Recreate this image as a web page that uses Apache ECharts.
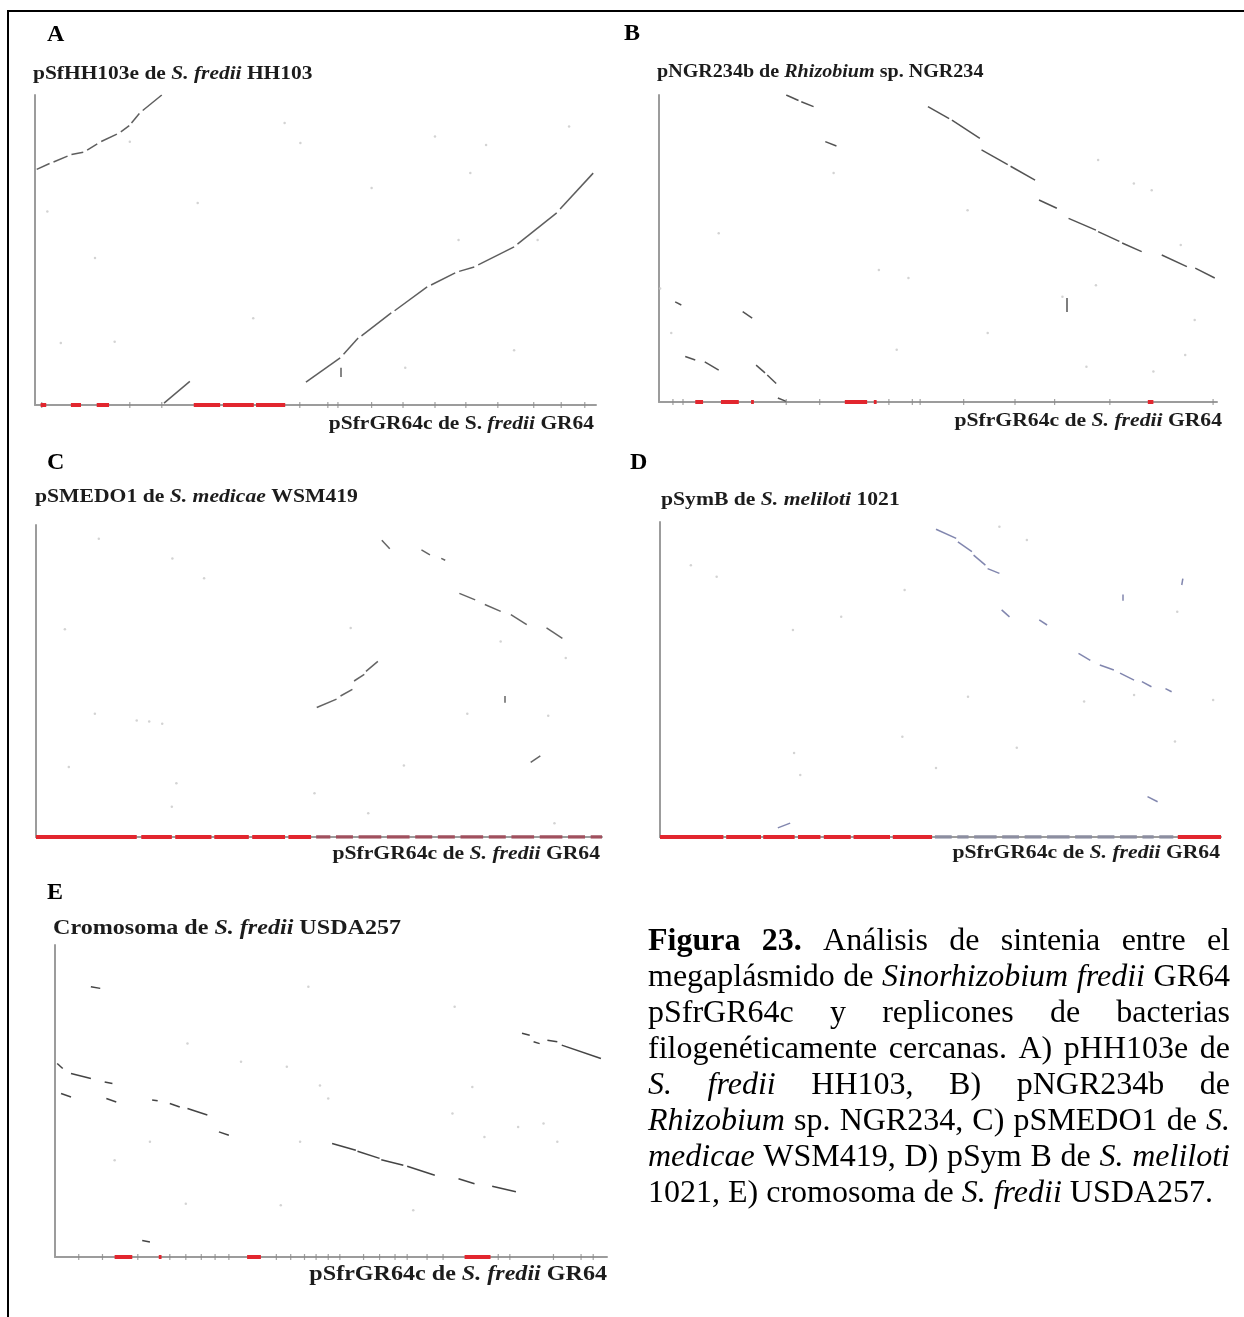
<!DOCTYPE html>
<html>
<head>
<meta charset="utf-8">
<script src="https://cdn.jsdelivr.net/npm/echarts@6/dist/echarts.min.js"></script>
<style>
html,body{margin:0;padding:0;background:#fff;}
#chart{width:1244px;height:1317px;}
</style>
</head>
<body>
<div id="chart"></div>
<script>
// ---------------- DATA (normalised genome positions, 0-100 % of each replicon) ----------------
// x = position on pSfrGR64c (S. fredii GR64), y = position on the compared replicon
// each hit: [x1, y1, x2, y2]
const hitsA = [
  [0.3,76,2.6,77.9],[3.3,78.4,5.8,80.3],[6.5,80.8,8.6,81.5],[9.3,82.2,11.1,84.2],
  [11.8,85,14.6,87.4],[15.3,88.1,16.8,90.1],[17.2,91,18.6,94],[19.2,95,22.6,100],
  [48.3,7.4,54.4,15.2],[55,16.4,57.6,21.6],[58.2,22.3,63.5,29.7],[64.1,30.4,69.9,38.1],
  [70.6,38.7,74.9,42.6],[75.6,43.1,78.3,44.5],[79,45.2,85.4,51],[86,51.9,93,62],[93.6,63.2,99.5,74.8],
  [23,0.6,27.6,7.6],[54.5,9,54.5,12]
];
const hitsB = [
  [22.8,100,25,98.2],[25.5,97.8,27.7,96.2],[29.8,84.8,31.8,83.4],
  [48.2,96.2,52,92.3],[52.5,91.8,57.5,85.9],[57.8,82.1,62.5,77.3],[63,76.8,67.4,72.3],
  [68.1,65.8,71.3,63.1],[73.4,59.8,78.3,56],[78.7,55.5,82.5,52.3],[83,51.8,86.5,49],
  [90.1,47.9,94.6,44.1],[96.1,43.6,99.6,40.4],
  [2.9,32.6,4,31.6],[15,29.4,16.7,27.3],[4.7,14.8,6.5,13.7],[8.2,13.1,10.7,10.4],
  [17.4,12,19,9.5],[19.4,8.8,21,6],[21.3,1.3,22.8,0.2],[73,33.9,73,29.3]
];
const hitsC = [
  [61.1,95.1,62.5,92.4],[68.1,92,69.6,90.4],[71.6,89.3,72.3,88.7],
  [74.8,78.1,77.6,76],[79.3,74.5,82.1,72.3],[83.9,71.3,86.7,68.1],[90.2,67,93,63.7],
  [49.6,41.5,53.1,44.2],[53.8,45.2,55.9,47.3],[56.2,50,58,52.1],[58.3,53.1,60.4,56.3],
  [87.4,23.9,89.1,26],[82.8,45.2,82.8,43]
];
const hitsD = [
  [49.2,97.7,52.8,94.8],[53.1,93.7,55.6,90.6],[55.9,89.5,58,86.3],[58.4,85.2,60.5,83.7],
  [60.9,72.1,62.3,69.9],[67.6,68.9,69,67.3],
  [74.6,58.3,76.7,56.1],[78.4,54.6,80.9,53],[82,52,84.5,49.8],[85.9,49.3,87.6,47.7],[90.1,47.1,91.2,46.1],
  [86.9,12.8,88.7,11.2],[82.4,77,82.4,75],[93.2,82,93,80],[21,2.9,23.2,4.4]
];
const hitsE = [
  [6.5,86.6,8.2,86.1],
  [0.4,62,1.4,60.4],[2.9,58.8,6.5,57.2],[1.1,52.4,2.9,51.3],[9,56.1,10.4,55.6],[9.3,50.8,11.1,49.7],
  [17.6,50.3,18.6,50.1],[20.8,49.2,22.6,48.1],[24,47.6,27.6,45.5],[29.7,40.1,31.5,39],
  [50.2,36.4,54.5,34.2],[54.8,33.9,58.8,31.6],[59.1,31.2,63.1,29.4],[63.8,29.1,68.8,26.2],
  [73.1,25.1,76,23.5],[79.2,22.7,83.5,20.9],
  [84.6,71.7,86,71.1],[86.7,69,87.8,68.4],[89.2,69.5,91,69],[91.8,67.9,98.9,63.6],
  [15.8,5.3,17.2,4.8]
];
// isolated weak hits [x, y]
const dotsA = [[44.5,91],[47.3,84.5],[71.3,86.6],[80.4,83.9],[77.6,74.8],[95.2,89.8],[38.9,28],[14.2,20.4],
  [4.6,20],[2.2,62.4],[10.7,47.4],[29,65.2],[85.4,17.7],[89.6,53.2],[75.5,53.2],[16.9,84.9],[60,70],[66,12]];
const dotsB = [[0.2,37],[44.7,40.4],[78.3,38],[96,26.7],[88.6,9.9],[31.3,74.6],[10.7,55],[39.4,43],[58.9,22.5],
  [42.6,17],[76.6,11.5],[85.1,71.2],[93.5,51.1],[88.3,69],[78.7,78.8],[55.3,62.5],[94.3,15.3],[2.2,22.5],[72.3,34.3]];
const dotsC = [[10.4,39.5],[22.3,36.3],[20,37],[24.8,17.2],[24,9.7],[49.2,14],[65,22.9],[11.1,95.6],[5.1,66.6],
  [5.8,22.4],[93.6,57.4],[29.7,82.9],[82.1,62.7],[55.6,67],[24.1,89.3],[91.6,4.4],[58.7,7.6],[17.8,37.3],[76.2,39.5],[90.5,38.9]];
const dotsD = [[23.9,26.7],[25,19.7],[43.2,31.8],[49.2,21.9],[63.6,28.3],[91.8,30.3],[10.1,82.6],[5.5,86.3],[60.5,98.5],
  [65.4,94.3],[75.6,43],[84.5,45.1],[98.6,43.5],[43.6,78.4],[32.3,69.9],[23.7,65.7],[54.9,44.5],[92.2,71.5]];
const dotsE = [[24,68.4],[33.7,62.6],[42,61],[48,55],[49.5,50.8],[10.8,31],[17.2,36.9],[44.4,36.9],[77.8,38.5],[83.9,41.7],
  [88.5,42.8],[75.6,54.5],[72,46],[23.7,17.1],[40.9,16.6],[64.9,15],[91,36.9],[45.9,86.6],[72.4,80.2]];
// annotated regions of pSfrGR64c along the x axis: [start, end]
const redA = [[1,2],[6.4,8.2],[11,13.2],[28.3,33],[33.5,39],[39.4,44.6]];
const redB = [[6.5,7.9],[11.1,14.3],[16.5,17],[33.3,37.3],[38.5,39],[87.6,88.6]];
const redC = [[0,17.8],[18.6,24],[24.6,31],[31.5,37.6],[38.2,44],[44.6,48.6]];
const redD = [[0,11.3],[11.8,18],[18.4,24],[24.6,28.6],[29.2,34],[34.5,41],[41.5,48.5],[92.3,100]];
const redE = [[10.8,14],[18.8,19.3],[34.8,37.3],[74.2,78.9]];
const otherA = [];
const otherB = [];
const otherC = [[49.5,52],[53,56],[57,61],[62,66],[67,70],[71,74],[75,79],[80,83],[84,88],[89,93],[94,97],[98,100]];
const otherD = [[49,52],[53,55],[56,60],[61,64],[65,68],[69,73],[74,77],[78,81],[82,85],[86,88],[89,91.5]];
const otherE = [];
// small marks along the x axis
const ticksA = [1.2,16.9,22.6,47.2,52.2,54,60,65.6,71.3,76.8,82.5,88.9,93.8,98];
const ticksB = [2.5,4.3,22.8,28.8,41.2,45.4,46.8,54.6,63.8,70.9,80.8,99.3];
const ticksC = [];
const ticksD = [];
const ticksE = [4.3,8.6,15,20.8,23.7,26.5,29,31.5,40.1,42.7,45.2,47.3,49.5,51.6,55.9,58.8,61.6,63.8,67.4,70.3,80.3,82.4,90.3,95.3,97.5];

const panelLetters = ['A','B','C','D','E'];
const yTitles = [
  '{b|pSfHH103e de }{bi|S. fredii}{b| HH103}',
  '{b|pNGR234b de }{bi|Rhizobium}{b| sp. NGR234}',
  '{b|pSMEDO1 de }{bi|S. medicae}{b| WSM419}',
  '{b|pSymB de }{bi|S. meliloti}{b| 1021}',
  '{b|Cromosoma de }{bi|S. fredii}{b| USDA257}'
];
const xTitles = [
  '{b|pSfrGR64c de S. }{bi|fredii}{b| GR64}',
  '{b|pSfrGR64c de }{bi|S. fredii}{b| GR64}',
  '{b|pSfrGR64c de }{bi|S. fredii}{b| GR64}',
  '{b|pSfrGR64c de }{bi|S. fredii}{b| GR64}',
  '{b|pSfrGR64c de }{bi|S. fredii}{b| GR64}'
];
const captionLines = [
  [['Figura','b'],['23.','b'],['Análisis','n'],['de','n'],['sintenia','n'],['entre','n'],['el','n']],
  [['megaplásmido','n'],['de','n'],['Sinorhizobium','i'],['fredii','i'],['GR64','n']],
  [['pSfrGR64c','n'],['y','n'],['replicones','n'],['de','n'],['bacterias','n']],
  [['filogenéticamente','n'],['cercanas.','n'],['A)','n'],['pHH103e','n'],['de','n']],
  [['S.','i'],['fredii','i'],['HH103,','n'],['B)','n'],['pNGR234b','n'],['de','n']],
  [['Rhizobium','i'],['sp.','n'],['NGR234,','n'],['C)','n'],['pSMEDO1','n'],['de','n'],['S.','i']],
  [['medicae','i'],['WSM419,','n'],['D)','n'],['pSym','n'],['B','n'],['de','n'],['S.','i'],['meliloti','i']],
  [['1021,','n'],['E)','n'],['cromosoma','n'],['de','n'],['S.','i'],['fredii','i'],['USDA257.','n']]
];

// ---------------- LAYOUT ----------------
const SERIF = '"Liberation Serif", "Times New Roman", serif';
const layout = [
  {grid:{left:35, top:95, width:561, height:310}, letter:[47,35], title:[33,74], xlab:[594,424], hit:'#555555', fs:19.5, tsx:1.1, lsx:1.1},
  {grid:{left:659, top:95, width:558, height:307}, letter:[624,34], title:[657,72], xlab:[1222,421], hit:'#4a4a4a', fs:19.5, tsx:1.03, lsx:1.11},
  {grid:{left:36, top:525, width:566, height:312}, letter:[47,463], title:[35,497], xlab:[600,854], hit:'#5c5c5c', fs:19.5, tsx:1.11, lsx:1.11},
  {grid:{left:660, top:522, width:561, height:315}, letter:[630,463], title:[661,500], xlab:[1220,853], hit:'#7a80aa', fs:19.5, tsx:1.11, lsx:1.11},
  {grid:{left:55, top:945, width:552, height:312}, letter:[47,893], title:[53,928], xlab:[607,1274], hit:'#3a3a3a', fs:21.5, tsx:1.12, lsx:1.12}
];
const hits = [hitsA,hitsB,hitsC,hitsD,hitsE];
const dots = [dotsA,dotsB,dotsC,dotsD,dotsE];
const reds = [redA,redB,redC,redD,redE];
const others = [otherA,otherB,otherC,otherD,otherE];
const otherColors = ['#999','#999','#a0505e','#8c8ea0','#999'];
const ticks = [ticksA,ticksB,ticksC,ticksD,ticksE];

const grids=[], xAxes=[], yAxes=[], series=[], graphics=[];
function rich(fs){
  return {
    b:{fontFamily:SERIF, fontWeight:'bold', fontSize:fs, fill:'#1c1c1c'},
    bi:{fontFamily:SERIF, fontWeight:'bold', fontStyle:'italic', fontSize:fs, fill:'#1c1c1c'}
  };
}
layout.forEach((L,i)=>{
  grids.push(Object.assign({containLabel:false}, L.grid));
  const axisLine = {show:true, onZero:false, lineStyle:{color:'#9c9c9c', width:2}};
  xAxes.push({gridIndex:i, type:'value', min:0, max:100, axisLine, axisTick:{show:false}, axisLabel:{show:false}, splitLine:{show:false}});
  yAxes.push({gridIndex:i, type:'value', min:0, max:100, axisLine, axisTick:{show:false}, axisLabel:{show:false}, splitLine:{show:false}});
  series.push({type:'scatter', xAxisIndex:i, yAxisIndex:i, data:dots[i], symbolSize:2.5, silent:true,
    itemStyle:{color:'#c8c8c8'}, z:2});
  series.push({type:'lines', coordinateSystem:'cartesian2d', xAxisIndex:i, yAxisIndex:i, silent:true, z:4,
    data:hits[i].map(s=>({coords:[[s[0],s[1]],[s[2],s[3]]]})), lineStyle:{color:L.hit, width:1.5, opacity:0.95}});
  series.push({type:'scatter', xAxisIndex:i, yAxisIndex:i, symbol:'rect', symbolSize:[1.2,6], silent:true, z:5,
    data:ticks[i].map(x=>[x,0]), itemStyle:{color:'#8a8a8a'}});
  series.push({type:'lines', coordinateSystem:'cartesian2d', xAxisIndex:i, yAxisIndex:i, silent:true, z:6,
    data:others[i].map(r=>({coords:[[r[0],0],[r[1],0]]})), lineStyle:{color:otherColors[i], width:3.5, opacity:1}});
  series.push({type:'lines', coordinateSystem:'cartesian2d', xAxisIndex:i, yAxisIndex:i, silent:true, z:7,
    data:reds[i].map(r=>({coords:[[r[0],0],[r[1],0]]})), lineStyle:{color:'#e2262e', width:4, opacity:1}});
  graphics.push({type:'text', x:L.letter[0], y:L.letter[1], silent:true,
    style:{text:panelLetters[i], font:'bold 24px '+SERIF, fill:'#000', verticalAlign:'middle', textVerticalAlign:'middle'}});
  graphics.push({type:'text', x:L.title[0], y:L.title[1], scaleX:L.tsx, silent:true,
    style:{text:yTitles[i], rich:rich(L.fs), verticalAlign:'middle', textVerticalAlign:'middle', font:'bold '+L.fs+'px '+SERIF}});
  graphics.push({type:'text', x:L.xlab[0], y:L.xlab[1], scaleX:L.lsx, silent:true,
    style:{text:xTitles[i], rich:rich(L.fs), align:'right', textAlign:'right', verticalAlign:'middle', textVerticalAlign:'middle', font:'bold '+L.fs+'px '+SERIF}});
});

// frame
graphics.push({type:'line', silent:true, shape:{x1:8, y1:11, x2:1244, y2:11}, style:{stroke:'#000', lineWidth:2}});
graphics.push({type:'line', silent:true, shape:{x1:8, y1:10, x2:8, y2:1317}, style:{stroke:'#000', lineWidth:2}});

// caption, justified
const CAP_FS = 32, CAP_L = 648, CAP_R = 1230, CAP_Y0 = 942, CAP_LH = 35.9;
const ctx = document.createElement('canvas').getContext('2d');
function capFont(st){ return (st==='b'?'bold ':st==='i'?'italic ':'') + CAP_FS + 'px ' + SERIF; }
function wWidth(w,st){ ctx.font = capFont(st); return ctx.measureText(w).width; }
captionLines.forEach((line,k)=>{
  const widths = line.map(([w,st])=>wWidth(w,st));
  const sum = widths.reduce((a,b)=>a+b,0);
  const last = k===captionLines.length-1;
  const gap = last ? wWidth(' ','n') : (CAP_R-CAP_L-sum)/(line.length-1);
  let x = CAP_L;
  const y = CAP_Y0 + k*CAP_LH;
  line.forEach(([w,st],j)=>{
    graphics.push({type:'text', x:x, y:y, silent:true,
      style:{text:w, font:capFont(st), fill:'#000', verticalAlign:'middle', textVerticalAlign:'middle'}});
    x += widths[j] + gap;
  });
});

const chart = echarts.init(document.getElementById('chart'), null, {renderer:'canvas'});
chart.setOption({
  backgroundColor:'#ffffff',
  animation:false,
  grid:grids, xAxis:xAxes, yAxis:yAxes, series:series,
  graphic:{elements:graphics}
});
</script>
</body>
</html>
